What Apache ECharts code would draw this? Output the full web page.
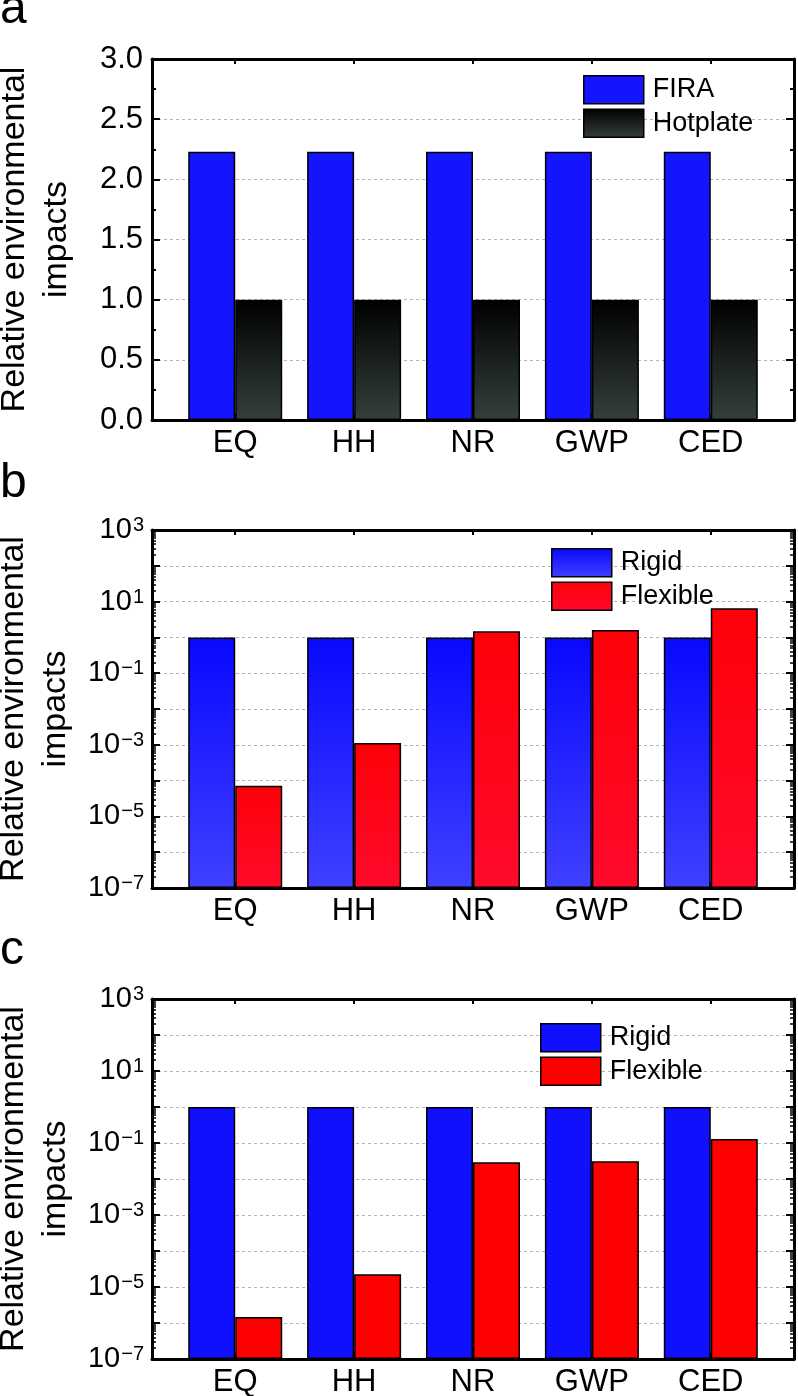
<!DOCTYPE html>
<html>
<head>
<meta charset="utf-8">
<script src="https://cdn.jsdelivr.net/npm/echarts@6/dist/echarts.min.js"></script>
<style>
html,body{margin:0;padding:0;background:#fff;}
#chart{width:798px;height:1396px;}
</style>
</head>
<body>
<div id="chart"></div>
<script>
// ---- data ----
const categories = ['EQ', 'HH', 'NR', 'GWP', 'CED'];
const categoryPositions = [1, 2, 3, 4, 5];
// panel a
const firaValues = [2.23, 2.23, 2.23, 2.23, 2.23];
const hotplateValues = [1.0, 1.0, 1.0, 1.0, 1.0];
// panel b
const rigidB = [1, 1, 1, 1, 1];
const flexibleB = [7.2e-5, 1.13e-3, 1.48, 1.62, 6.5];
// panel c
const rigidC = [1, 1, 1, 1, 1];
const flexibleC = [1.47e-6, 2.25e-5, 0.029, 0.031, 0.13];
// tick labels
const linearTickLabels = ['0.0', '0.5', '1.0', '1.5', '2.0', '2.5', '3.0'];
const panelLetters = ['a', 'b', 'c'];
const yAxisTitle = 'Relative environmental\nimpacts';

// ---- helpers ----
const FONT = 'Liberation Sans, Arial, sans-serif';
const pairs = vals => categoryPositions.map((x, i) => [x, vals[i]]);
const grad = (top, bottom) => new echarts.graphic.LinearGradient(0, 0, 0, 1, [
  {offset: 0, color: top}, {offset: 1, color: bottom}
]);

const gridBase = {left: 152, right: 4, containLabel: false, outerBoundsMode: 'none'};
const grids = [
  Object.assign({}, gridBase, {top: 59, height: 361}),
  Object.assign({}, gridBase, {top: 530, height: 358}),
  Object.assign({}, gridBase, {top: 999, height: 360})
];

const axisLine = {show: true, onZero: false, lineStyle: {color: '#000', width: 3}};
const splitLine = {show: true, lineStyle: {color: '#b4b4b4', width: 1, type: [3, 3]}};
const nameStyle = {fontSize: 34, lineHeight: 42, color: '#000', fontFamily: FONT};

const xAxes = [];
const yAxes = [];
grids.forEach((g, gi) => {
  xAxes.push({
    type: 'value', gridIndex: gi, position: 'bottom', min: 0.3, max: 5.7,
    axisLine: axisLine,
    axisTick: {show: true, inside: true, length: 6, lineStyle: {color: '#000', width: 2}},
    axisLabel: {
      margin: 8, fontSize: 31, color: '#000', fontFamily: FONT,
      showMinLabel: false, showMaxLabel: false,
      formatter: v => (Math.abs(v - Math.round(v)) < 1e-6 && v >= 1 && v <= 5) ? categories[Math.round(v) - 1] : ''
    },
    splitLine: {show: false}
  });
  xAxes.push({
    type: 'value', gridIndex: gi, position: 'top', min: 0.3, max: 5.7,
    axisLine: axisLine,
    axisTick: {show: true, inside: true, length: 5, lineStyle: {color: '#000', width: 2}},
    axisLabel: {show: false},
    splitLine: {show: false}
  });
});

// panel a y axes
const linY = (pos, showLabel) => ({
  type: 'value', gridIndex: 0, position: pos, min: 0, max: 3, interval: 0.5,
  axisLine: axisLine,
  axisTick: {show: true, inside: true, length: 8, lineStyle: {color: '#000', width: 2}},
  minorTick: {show: true, splitNumber: 2, length: 4, lineStyle: {color: '#000', width: 2}},
  axisLabel: showLabel ? {
    margin: 9, fontSize: 31, color: '#000', fontFamily: FONT,
    formatter: v => linearTickLabels[Math.round(v / 0.5)]
  } : {show: false},
  splitLine: showLabel ? splitLine : {show: false},
  name: showLabel ? yAxisTitle : '',
  nameLocation: 'middle', nameRotate: 90, nameGap: 74,
  nameTextStyle: nameStyle
});
yAxes.push(linY('left', true));
yAxes.push(linY('right', false));

const supText = e => (e < 0 ? '\u2212' + (-e) : String(e));
const logY = (gi, pos, showLabel) => ({
  type: 'log', gridIndex: gi, position: pos, min: 1e-7, max: 1e3, interval: 1, logBase: 10,
  startValue: 1e-7,
  axisLine: axisLine,
  axisTick: {show: true, inside: true, length: 8, lineStyle: {color: '#000', width: 2}},
  minorTick: {show: true, splitNumber: 9, length: 4, lineStyle: {color: '#000', width: 1.5}},
  axisLabel: showLabel ? {
    margin: 8, color: '#000', fontFamily: FONT,
    formatter: v => {
      const e = Math.round(Math.log10(v));
      if (Math.abs(e % 2) !== 1) return '';
      return '{b|10}{s|' + supText(e) + '}';
    },
    rich: {
      b: {fontSize: 29, color: '#000', fontFamily: FONT},
      s: {fontSize: 20, color: '#000', fontFamily: FONT, verticalAlign: 'top', padding: [0, 0, 0, 1]}
    }
  } : {show: false},
  splitLine: showLabel ? splitLine : {show: false},
  name: showLabel ? yAxisTitle : '',
  nameLocation: 'middle', nameRotate: 90, nameGap: 74,
  nameTextStyle: nameStyle
});
yAxes.push(logY(1, 'left', true));
yAxes.push(logY(1, 'right', false));
yAxes.push(logY(2, 'left', true));
yAxes.push(logY(2, 'right', false));

const border = {borderColor: '#000', borderWidth: 1.5};
const firaStyle = Object.assign({color: '#1414ff'}, border);
const hotStyle = Object.assign({color: grad('#000000', '#34403d')}, border);
const rigidBStyle = Object.assign({color: grad('#0808ff', '#4040ff')}, border);
const flexBStyle = Object.assign({color: grad('#ff0008', '#ff0a2c')}, border);
const rigidCStyle = Object.assign({color: '#1010ff'}, border);
const flexCStyle = Object.assign({color: '#ff0000'}, border);

const bar = (name, gi, data, style) => ({
  name: name, type: 'bar', xAxisIndex: gi * 2, yAxisIndex: gi * 2,
  data: pairs(data), barWidth: 47, barGap: '0%', itemStyle: style,
  emphasis: {disabled: true}, animation: false
});

const legendBase = {
  orient: 'vertical', itemWidth: 60, itemHeight: 28, itemGap: 4, padding: 0,
  icon: 'rect', selectedMode: false,
  textStyle: {fontSize: 27, color: '#000', fontFamily: FONT, padding: [0, 0, 0, 4]}
};

const option = {
  animation: false,
  backgroundColor: '#fff',
  grid: grids,
  xAxis: xAxes,
  yAxis: yAxes,
  legend: [
    Object.assign({}, legendBase, {left: 583, top: 75, data: [
      {name: 'FIRA', itemStyle: firaStyle},
      {name: 'Hotplate', itemStyle: hotStyle}
    ]}),
    Object.assign({}, legendBase, {left: 551, top: 548, data: [
      {name: 'Rigid', itemStyle: rigidBStyle},
      {name: 'Flexible', itemStyle: flexBStyle}
    ]}),
    Object.assign({}, legendBase, {left: 540, top: 1023, data: [
      {name: 'Rigid', itemStyle: rigidCStyle},
      {name: 'Flexible', itemStyle: flexCStyle}
    ]})
  ],
  graphic: [
    {type: 'text', left: 0, top: -14, style: {text: panelLetters[0], font: '48px ' + FONT, fill: '#000'}},
    {type: 'text', left: 0, top: 460, style: {text: panelLetters[1], font: '48px ' + FONT, fill: '#000'}},
    {type: 'text', left: 0, top: 927, style: {text: panelLetters[2], font: '48px ' + FONT, fill: '#000'}}
  ],
  series: [
    bar('FIRA', 0, firaValues, firaStyle),
    bar('Hotplate', 0, hotplateValues, hotStyle),
    bar('Rigid', 1, rigidB, rigidBStyle),
    bar('Flexible', 1, flexibleB, flexBStyle),
    bar('Rigid', 2, rigidC, rigidCStyle),
    bar('Flexible', 2, flexibleC, flexCStyle)
  ]
};

const chart = echarts.init(document.getElementById('chart'), null, {renderer: 'canvas'});
chart.setOption(option);
</script>
</body>
</html>
